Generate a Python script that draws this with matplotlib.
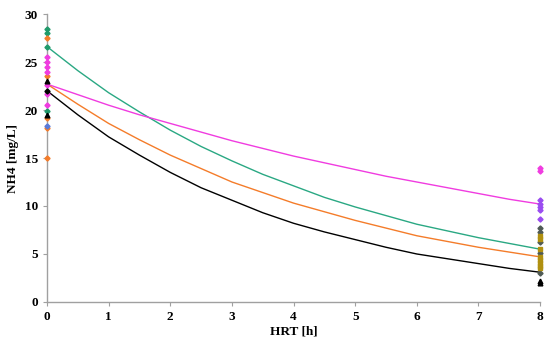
import numpy as np
import matplotlib.pyplot as plt

plt.rcParams['font.family'] = ['Liberation Serif', 'DejaVu Serif']

# trend lines every half hour
hrt = [0, 0.5, 1, 1.5, 2, 2.5, 3, 3.5, 4, 4.5, 5, 5.5, 6, 6.5, 7, 7.5, 8]
teal_fit = [26.6, 24.1, 21.8, 19.8, 17.9, 16.2, 14.7, 13.3, 12.1,
            10.9, 9.9, 9.0, 8.1, 7.4, 6.7, 6.1, 5.5]
magenta_fit = [22.7, 21.6, 20.5, 19.5, 18.6, 17.7, 16.8, 16.0, 15.2,
               14.5, 13.8, 13.1, 12.5, 11.9, 11.3, 10.7, 10.2]
orange_fit = [22.7, 20.6, 18.6, 16.9, 15.3, 13.9, 12.5, 11.4, 10.3,
              9.4, 8.5, 7.7, 6.9, 6.3, 5.7, 5.2, 4.7]
black_fit = [22.0, 19.5, 17.2, 15.3, 13.5, 11.9, 10.6, 9.3, 8.2,
             7.3, 6.5, 5.7, 5.0, 4.5, 4.0, 3.5, 3.1]

# measured points at HRT 0
teal_0 = [28.4, 28.0, 26.6, 19.9]
orange_0 = [27.5, 23.5, 19.2, 18.1, 15.0]
magenta_0 = [25.5, 25.0, 24.5, 24.0, 22.6, 21.7, 20.5]
black_tri_0 = [23.0, 19.5]
black_dia_0 = [22.0]
blue_0 = [18.3]

# measured points at HRT 8
magenta_8 = [14.0, 13.6]
violet_8 = [10.6, 10.2, 9.9, 9.6, 8.6]
gray_8 = [7.7, 7.3, 6.2, 5.1, 3.0]
olive_8 = [6.9, 6.6, 5.5, 4.7, 4.4, 4.1, 3.8, 3.5]
black_tri_8 = [2.2, 2.0]

c_teal = '#2aa883'
c_orange = '#f47c2a'
c_magenta = '#f03ce0'
c_violet = '#9a4cf0'
c_olive = '#b09010'
c_gray = '#4f5a55'

fig = plt.figure(figsize=(5.5, 3.42), dpi=100)
ax = fig.add_axes([0.0855, 0.117, 0.8965, 0.842])

ax.plot(hrt, teal_fit, color=c_teal, lw=1)
ax.plot(hrt, magenta_fit, color=c_magenta, lw=1)
ax.plot(hrt, orange_fit, color=c_orange, lw=1)
ax.plot(hrt, black_fit, color='black', lw=1)

ms = 2.6
mt = 3.4


def pts(x, ys, marker, color, size):
    ax.plot([x] * len(ys), ys, marker, color=color, ms=size, ls='none',
            clip_on=False, zorder=3)


pts(0, teal_0, 'D', '#1f9a6a', ms)
pts(0, orange_0, 'D', c_orange, ms)
pts(0, magenta_0, 'D', c_magenta, ms)
pts(0, black_tri_0, '^', 'black', mt)
pts(0, black_dia_0, 'D', 'black', ms)
pts(0, blue_0, 'D', '#5a7ad8', ms)

pts(8, magenta_8, 'D', c_magenta, ms)
pts(8, violet_8, 'D', c_violet, ms)
pts(8, gray_8, 'D', c_gray, ms)
pts(8, olive_8, 's', c_olive, ms)
pts(8, black_tri_8, '^', 'black', mt)

ax.set_xlim(0, 8)
ax.set_ylim(0, 30)
ax.set_xticks(range(0, 9))
ax.set_yticks(range(0, 31, 5))
ax.spines['top'].set_visible(False)
ax.spines['right'].set_visible(False)
for s in ['left', 'bottom']:
    ax.spines[s].set_color('#a0a0a0')
    ax.spines[s].set_linewidth(1)
ax.tick_params(direction='out', length=3, color='#a0a0a0', labelsize=9.5)
for lab in ax.get_xticklabels() + ax.get_yticklabels():
    lab.set_fontweight('bold')

ax.set_xlabel('HRT [h]', fontsize=9.5, fontweight='bold', labelpad=2)
ax.set_ylabel('NH4 [mg/L]', fontsize=9.5, fontweight='bold', labelpad=4)

fig.savefig('out.png', dpi=100)
